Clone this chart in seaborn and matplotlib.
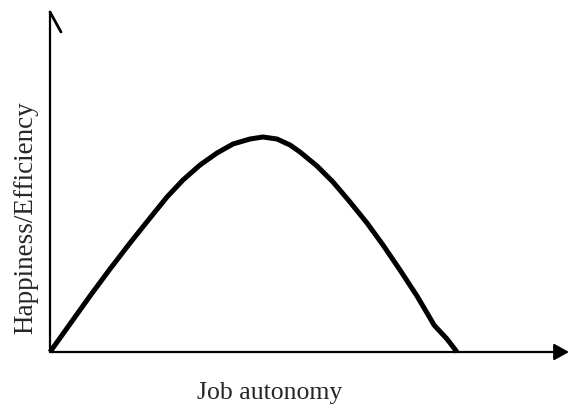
import pandas as pd
import numpy as np
import seaborn as sns
import matplotlib.pyplot as plt

# points (x: job autonomy, y: happiness/efficiency)
autonomy = [0, 20, 40, 60, 80, 100, 117, 133, 150, 167, 183, 200, 213,
            227, 240, 250, 267, 283, 300, 317, 333, 350, 367, 380, 384, 397, 407]
happiness = [0, 28, 56, 83, 109, 134, 155, 172, 187, 199, 208, 213, 215,
             213, 207, 200, 186, 170, 150, 129, 107, 82, 56, 34, 27, 13, 0]

x_label = "Job autonomy"
y_label = "Happiness/Efficiency"

curve_pd = pd.DataFrame({"autonomy": autonomy, "happiness": happiness})

sns.set_style("white")
plt.rcParams['font.family'] = ['Liberation Serif', 'DejaVu Serif']

fig = plt.figure(figsize=(5.69, 4.05), dpi=100)
ax = fig.add_axes([50 / 569, 53 / 405, 519 / 569, 340 / 405])

sns.lineplot(data=curve_pd, x="autonomy", y="happiness", ax=ax,
             color="black", linewidth=3.6, clip_on=False)
ax.lines[0].set_solid_capstyle("butt")
ax.lines[0].set_solid_joinstyle("round")

ax.set_xlim(0, 519)
ax.set_ylim(0, 340)
ax.set_xticks([])
ax.set_yticks([])
ax.set_xlabel("")
ax.set_ylabel("")
for side in ["top", "right", "bottom", "left"]:
    ax.spines[side].set_visible(False)

# y axis with a half arrow head at the top
ax.plot([0, 0], [0, 1], transform=ax.transAxes, color="black", lw=1.6, clip_on=False)
ax.plot([0, 11 / 519], [1, 1 - 20 / 340], transform=ax.transAxes,
        color="black", lw=2.0, clip_on=False)

# x axis with a filled arrow head
ax.annotate("", xy=(1, 0), xytext=(0, 0), xycoords="axes fraction",
            arrowprops=dict(arrowstyle="-|>,head_length=0.9,head_width=0.5",
                            mutation_scale=10, lw=1.6, color="black",
                            shrinkA=0, shrinkB=0))

fig.text(270 / 569, 6 / 405, x_label, ha="center", va="baseline", fontsize=18.5)
fig.text(26 / 569, 1 - 218 / 405, y_label, ha="center", va="center",
         rotation=90, fontsize=19.5)

fig.savefig("out.png", dpi=100)
